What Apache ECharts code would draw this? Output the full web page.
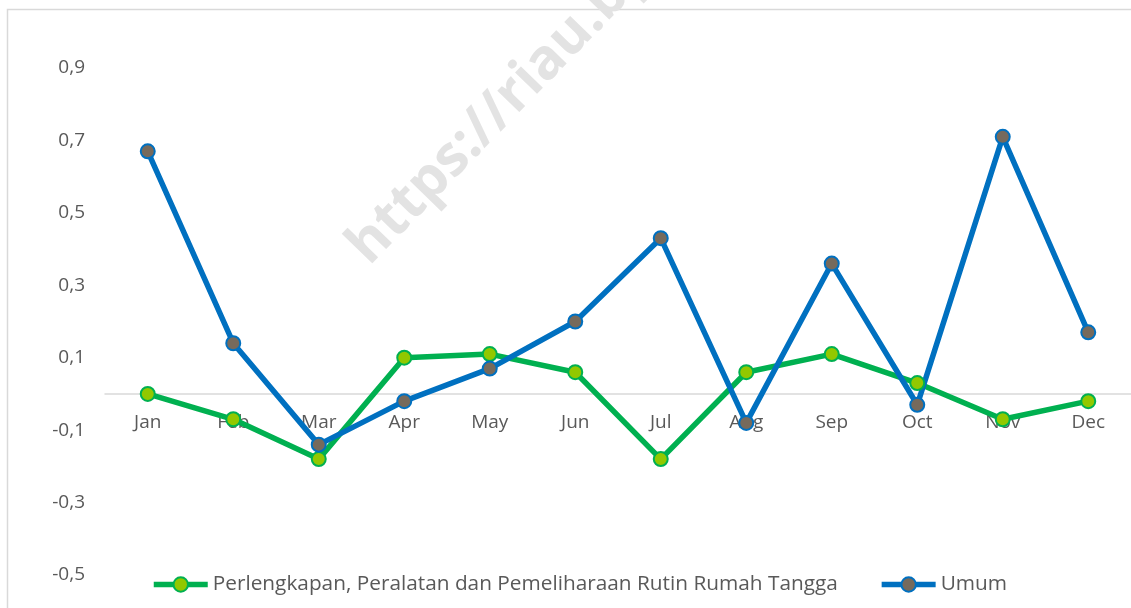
<!DOCTYPE html>
<html>
<head>
<meta charset="utf-8">
<script src="https://cdn.jsdelivr.net/npm/echarts@6/dist/echarts.min.js"></script>
<style>
  html, body { margin: 0; padding: 0; background: #fff; }
  #chart { width: 1131px; height: 608px; }
</style>
</head>
<body>
<div id="chart"></div>
<script>
// bulan
var months = ["Jan", "Feb", "Mar", "Apr", "May", "Jun", "Jul", "Aug", "Sep", "Oct", "Nov", "Dec"];
// inflasi bulanan (%)
var perlengkapan = [0.00, -0.07, -0.18, 0.10, 0.11, 0.06, -0.18, 0.06, 0.11, 0.03, -0.07, -0.02];
var umum = [0.67, 0.14, -0.14, -0.02, 0.07, 0.20, 0.43, -0.08, 0.36, -0.03, 0.71, 0.17];
var seriesNames = ["Perlengkapan, Peralatan dan Pemeliharaan Rutin Rumah Tangga", "Umum"];

var font = "'Open Sans', 'Noto Sans', sans-serif";
var chart = echarts.init(document.getElementById("chart"));
chart.setOption({
  backgroundColor: "#fff",
  animation: false,
  textStyle: { fontFamily: font },
  graphic: [
    {
      type: "rect", z: -10, silent: true,
      shape: { x: 7.5, y: 9.5, width: 1140, height: 620 },
      style: { fill: "none", stroke: "#d9d9d9", lineWidth: 1.5 }
    },
    {
      // watermark
      type: "text", z: -5, silent: true,
      x: 378, y: 275, rotation: 0.8,
      style: {
        text: "https://riau.bps.go.id",
        fill: "#e3e3e3",
        font: "bold 56px " + font,
        textVerticalAlign: "bottom"
      }
    }
  ],
  grid: { left: 105, top: 68, width: 1032, bottom: 33, containLabel: false },
  legend: {
    left: 146, top: 569,
    itemWidth: 54, itemHeight: 18, itemGap: 41,
    lineStyle: { width: 5.5 },
    textStyle: { color: "#595959", fontSize: 20.8, fontFamily: font },
    data: seriesNames
  },
  xAxis: {
    type: "category",
    data: months,
    boundaryGap: true,
    axisLine: { onZero: true, lineStyle: { color: "#d9d9d9", width: 1.5 } },
    axisTick: { show: false },
    // labels sit just under the zero line
    axisLabel: { color: "#595959", fontSize: 19, margin: -162, fontFamily: font },
    splitLine: { show: false }
  },
  yAxis: {
    type: "value",
    min: -0.5, max: 0.9, interval: 0.2,
    axisLine: { show: false },
    axisTick: { show: false },
    splitLine: { show: false },
    axisLabel: {
      color: "#595959", fontSize: 19, margin: 20, fontFamily: font,
      formatter: function (v) { return v.toFixed(1).replace(".", ","); }
    }
  },
  series: [
    {
      name: seriesNames[0],
      type: "line",
      data: perlengkapan,
      symbol: "circle", symbolSize: 14,
      lineStyle: { color: "#00b050", width: 5.5 },
      itemStyle: { color: "#92c800", borderColor: "#00b050", borderWidth: 2 }
    },
    {
      name: seriesNames[1],
      type: "line",
      data: umum,
      symbol: "circle", symbolSize: 14,
      lineStyle: { color: "#0070c0", width: 5.5 },
      itemStyle: { color: "#766a5c", borderColor: "#0070c0", borderWidth: 2 }
    }
  ]
});
</script>
</body>
</html>
